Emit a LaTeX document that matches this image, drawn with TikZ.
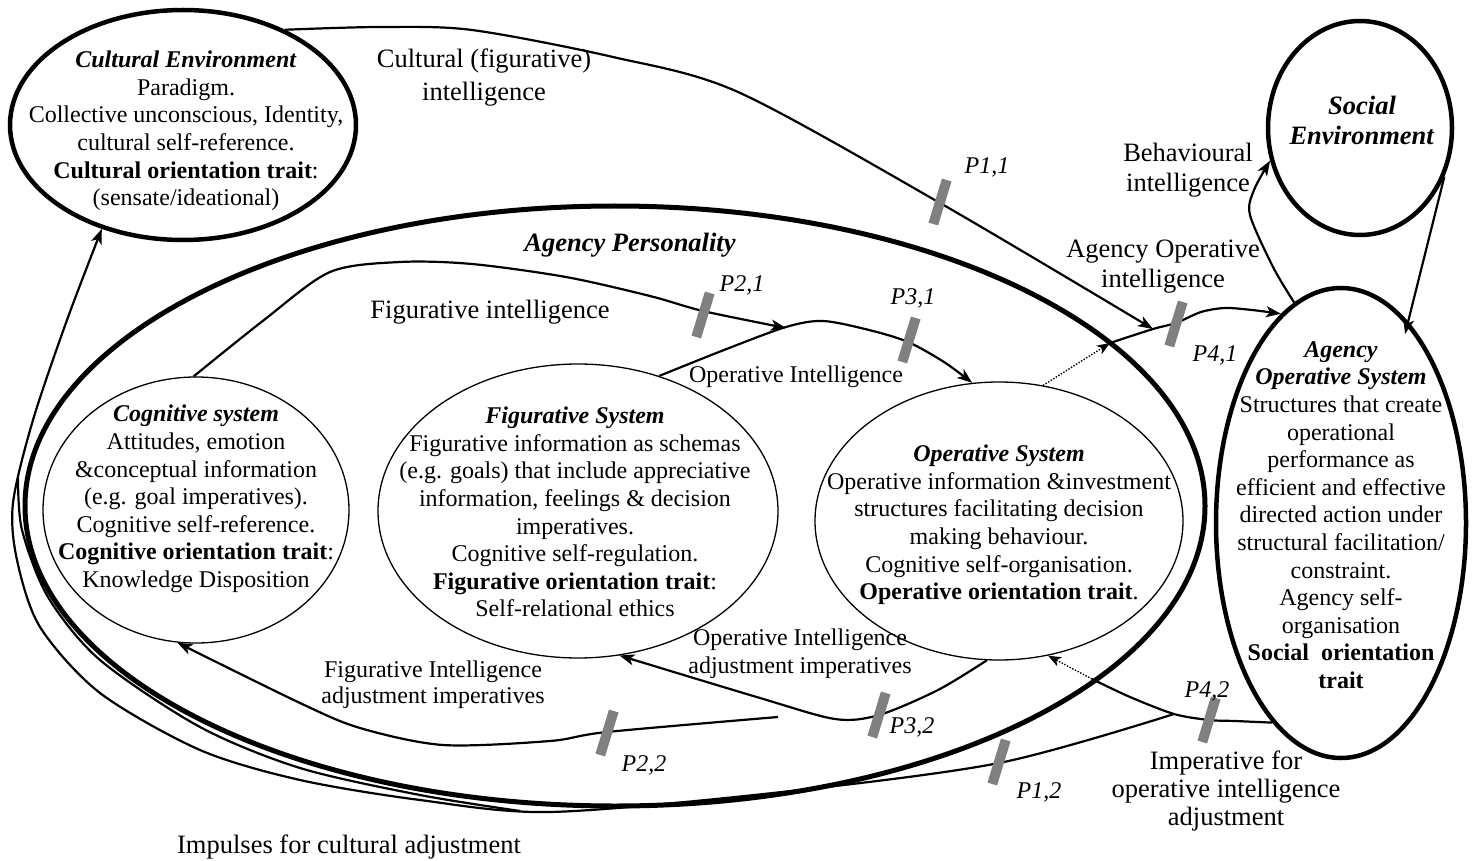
\documentclass[tikz,border=0pt]{standalone}
\usepackage{fontspec}
\setmainfont{Liberation Serif}
\usetikzlibrary{arrows.meta,shapes.geometric}
\definecolor{barg}{RGB}{128,128,128}
\begin{document}
\begin{tikzpicture}[x=1pt,y=-1pt,
  ell/.style={draw, shape=ellipse, inner sep=0pt},
  thickell/.style={ell, line width=4.5pt},
  thinell/.style={ell, line width=1.3pt},
  txt/.style={align=center, inner sep=0pt, font=\fontsize{24}{27.6}\selectfont},
  lbl/.style={align=center, inner sep=0pt, font=\fontsize{26.5}{30}\selectfont},
  plbl/.style={inner sep=0pt, font=\fontsize{24}{28}\selectfont\itshape},
  pbar/.style={fill=barg, draw=none, shape=rectangle, minimum width=10pt, minimum height=46pt, inner sep=0pt, rotate=-17},
  conn/.style={line width=2.2pt, line join=round},
  arr/.style={conn, -{Stealth[length=15pt,width=11pt,inset=4pt]}},
  dotc/.style={line width=1.4pt, dash pattern=on 1.4pt off 1.6pt, -{Stealth[length=13pt,width=10pt,inset=3.5pt]}},
]
\useasboundingbox[fill=white] (0,0) rectangle (1478,861);

% ellipses
\node[thickell, minimum width=346pt, minimum height=230pt] (ce) at (183,125) {};
\node[thickell, minimum width=184pt, minimum height=214pt] (se) at (1360,128) {};
\node[thickell, minimum width=250pt, minimum height=470pt] (aos) at (1341,523) {};
\node[ell, line width=5pt, minimum width=1180pt, minimum height=600pt] (ap) at (615,506) {};
\node[thinell, minimum width=306pt, minimum height=266pt] (cog) at (196,510) {};
\node[thinell, minimum width=400pt, minimum height=294pt] (fs) at (578,511) {};
\node[thinell, minimum width=368pt, minimum height=278pt] (os) at (999,521) {};

% junction coordinates
\coordinate (p11end) at (1153,329);
\coordinate (fiend) at (786,328);
\coordinate (aoim) at (1110,343);
\coordinate (p42j) at (1174,714);
\coordinate (p42k) at (1092,679);
\coordinate (p22s) at (778,717);
\coordinate (seend) at (1405,334);
\coordinate (dblA) at (520,811);
\coordinate (dblB) at (18,478);

% Cultural (figurative) intelligence
\draw[arr] plot[smooth, tension=0.5] coordinates {(ce.43) (380,27) (472,30) (613,57) (738,92) (940,203) (p11end)};

% Impulses for cultural adjustment (outer)
\draw[arr] plot[smooth, tension=0.5] coordinates {(p42j) (999,763) (773,793) (550,812) (420,800) (300,780) (200,750) (100,693) (40,627) (17,560) (13,503) (33,420) (67,320) (ce.232)};
% doubled strand
\draw[conn] plot[smooth, tension=0.5] coordinates {(dblA) (420,795) (300,768) (200,727) (100,660) (48,597) (22,530) (dblB)};

% Figurative intelligence
\draw[arr] plot[smooth, tension=0.5] coordinates {(cog.91) (264,320) (330,272) (400,262) (472,264) (566,277) (650,296) (703,311) (fiend)};

% Operative Intelligence (upper)
\draw[arr] plot[smooth, tension=0.5] coordinates {(fs.59) (724,350) (786,327) (823,321) (869,330) (908,342) (944,362) (os.101)};

% Agency Operative intelligence
\draw[dotc] (os.72) -- (aoim);
\draw[arr] plot[smooth, tension=0.5] coordinates {(aoim) (p11end) (1176,323) (1201,312) (1225,308) (1252,310) (aos.106)};

% Behavioural intelligence
\draw[arr] plot[smooth, tension=0.5] coordinates {(aos.102) (1273,267) (1250,215) (1254,190) (se.200)};

% Social -> Agency Operative System
\draw[arr] (se.-30) -- (seend);

% P4,2 : Imperative for operative intelligence adjustment
\draw[conn] plot[smooth, tension=0.5] coordinates {(aos.251) (1235,721) (1209,720) (p42j) (1130,697) (p42k)};
\draw[dotc] (p42k) -- (os.-70);

% P3,2 : Operative Intelligence adjustment imperatives
\draw[arr] plot[smooth, tension=0.5] coordinates {(os.-95) (938,690) (879,715) (835,719) (760,698) (fs.-74)};

% P2,2 : Figurative Intelligence adjustment imperatives
\draw[arr] plot[smooth, tension=0.5] coordinates {(p22s) (607,732) (550,741) (443,745) (360,728) (300,703) (cog.-98)};

% bars
\node[pbar] (b11) at (940,202) {};
\node[pbar] (b21) at (703,315) {};
\node[pbar] (b31) at (909,340) {};
\node[pbar] (b41) at (1176,324) {};
\node[pbar] (b42) at (1209,720) {};
\node[pbar] (b32) at (879,715) {};
\node[pbar] (b22) at (607,733) {};
\node[pbar] (b12) at (999,762) {};

% P labels
\node[plbl] (l11) at (987,167) {P1,1};
\node[plbl] (l21) at (742,285) {P2,1};
\node[plbl] (l31) at (913,298) {P3,1};
\node[plbl] (l41) at (1215,355) {P4,1};
\node[plbl] (l42) at (1207,691) {P4,2};
\node[plbl] (l32) at (912,727) {P3,2};
\node[plbl] (l22) at (644,765) {P2,2};
\node[plbl] (l12) at (1039,792) {P1,2};

% texts inside ellipses
\node[txt] (tce) at (186,131) {\textbf{\textit{Cultural Environment}}\\Paradigm.\\Collective unconscious, Identity,\\cultural self-reference.\\\textbf{Cultural orientation trait}:\\(sensate/ideational)};
\node[lbl] (tse) at (1362,120) {\textbf{\textit{Social}}\\\textbf{\textit{Environment}}};
\node[txt] (taos) at (1341,515) {\textbf{\textit{Agency}}\\\textbf{\textit{Operative System}}\\Structures that create\\operational\\performance as\\efficient and effective\\directed action under\\structural facilitation/\\constraint.\\Agency self-\\organisation\\\textbf{Social\ \ orientation}\\\textbf{trait}};
\node[txt] (tcog) at (196,499) {\textbf{\textit{Cognitive system}}\\Attitudes, emotion\\\&conceptual information\\(e.g. goal imperatives).\\Cognitive self-reference.\\\textbf{Cognitive orientation trait}:\\Knowledge Disposition};
\node[txt] (tfs) at (575,512) {\textbf{\textit{Figurative System}}\\Figurative information as schemas\\(e.g. goals) that include appreciative\\information, feelings \& decision\\imperatives.\\Cognitive self-regulation.\\\textbf{Figurative orientation trait}:\\Self-relational ethics};
\node[txt] (tos) at (999,525) {\textbf{\textit{Operative System}}\\Operative information \&investment\\structures facilitating decision\\making behaviour.\\Cognitive self-organisation.\\\textbf{Operative orientation trait}.};

% connector labels
\node[lbl, font=\fontsize{26.5}{33}\selectfont] (lcfi) at (484,78) {Cultural (figurative)\\intelligence};
\node[lbl] (lap) at (630,245) {\textbf{\textit{Agency Personality}}};
\node[lbl] (lfi) at (490,312) {Figurative intelligence};
\node[txt] (loi) at (796,377) {Operative Intelligence};
\node[lbl] (laoi) at (1163,267) {Agency Operative\\intelligence};
\node[lbl] (lbi) at (1188,170) {Behavioural\\intelligence};
\node[lbl, font=\fontsize{26.5}{28}\selectfont] (lim) at (1226,791) {Imperative for\\operative intelligence\\adjustment};
\node[txt] (loia) at (800,654) {Operative Intelligence\\adjustment imperatives};
\node[txt, font=\fontsize{24}{26}\selectfont] (lfia) at (433,685) {Figurative Intelligence\\adjustment imperatives};
\node[lbl] (limp) at (349,847) {Impulses for cultural adjustment};
\end{tikzpicture}
\end{document}
